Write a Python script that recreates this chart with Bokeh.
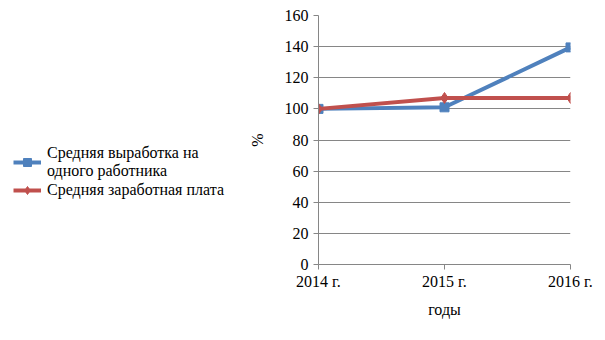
from bokeh.plotting import figure
from bokeh.layouts import row
from bokeh.models import Range1d, FixedTicker, Legend, LegendItem
from bokeh.embed import file_html
from bokeh.resources import INLINE

years = ["2014 г.", "2015 г.", "2016 г."]
output_per_worker = [100, 101, 139.5]
avg_salary = [100, 107, 107]
y_ticks = [0, 20, 40, 60, 80, 100, 120, 140, 160]
series_names = ["Средняя выработка на\nодного работника", "Средняя заработная плата"]

FONT = "Liberation Serif"
FS = "16px"
GRAY = "#868686"
BLUE = "#4F81BD"
RED = "#C0504D"

xs = list(range(len(years)))
LEG_W = 240

# ---- main chart ----
p = figure(width=605 - LEG_W, height=340, output_backend="svg", toolbar_location=None,
           x_range=Range1d(0, len(years) - 1), y_range=Range1d(0, 160),
           min_border_left=318 - LEG_W, min_border_right=35, min_border_top=15,
           min_border_bottom=76)
p.outline_line_color = None
p.background_fill_color = "white"
p.border_fill_color = "white"

p.xgrid.visible = False
p.ygrid.grid_line_color = GRAY
p.ygrid.grid_line_width = 1

for ax in (p.xaxis[0], p.yaxis[0]):
    ax.axis_line_color = GRAY
    ax.major_tick_line_color = GRAY
    ax.major_tick_out = 5
    ax.major_tick_in = 0
    ax.minor_tick_line_color = None
    ax.major_label_text_font = FONT
    ax.major_label_text_font_size = FS
    ax.major_label_text_color = "#000000"
    ax.axis_label_text_font = FONT
    ax.axis_label_text_font_size = FS
    ax.axis_label_text_font_style = "normal"
    ax.axis_label_text_color = "#000000"

p.xaxis.ticker = FixedTicker(ticks=xs)
p.xaxis.major_label_overrides = {i: y for i, y in enumerate(years)}
p.xaxis.axis_label = "годы"
p.xaxis.major_label_standoff = 3
p.xaxis.axis_label_standoff = 8

p.yaxis.ticker = FixedTicker(ticks=y_ticks)
p.yaxis.axis_label = "%"
p.yaxis.major_label_standoff = 5
p.yaxis.axis_label_standoff = 16

p.line(xs, output_per_worker, line_color=BLUE, line_width=4)
p.scatter(xs, output_per_worker, marker="square", size=9, fill_color=BLUE, line_color=BLUE)
p.line(xs, avg_salary, line_color=RED, line_width=4)
p.scatter(xs, avg_salary, marker="diamond", size=11, fill_color=RED, line_color=RED)

# ---- legend panel (same series, drawn outside its visible range) ----
lf = figure(width=LEG_W, height=340, output_backend="svg", toolbar_location=None,
            x_range=Range1d(100, 101), y_range=Range1d(1000, 1001),
            min_border=0)
lf.axis.visible = False
lf.grid.visible = False
lf.outline_line_color = None
lf.background_fill_color = "white"
lf.border_fill_color = "white"

a1 = lf.line(xs, output_per_worker, line_color=BLUE, line_width=4)
b1 = lf.scatter(xs, output_per_worker, marker="square", size=9, fill_color=BLUE, line_color=BLUE)
a2 = lf.line(xs, avg_salary, line_color=RED, line_width=4)
b2 = lf.scatter(xs, avg_salary, marker="diamond", size=11, fill_color=RED, line_color=RED)

legend = Legend(items=[
    LegendItem(label=series_names[0], renderers=[a1, b1]),
    LegendItem(label=series_names[1], renderers=[a2, b2]),
], location=(13, 64))
legend.label_text_font = "'Liberation Serif', serif"
legend.label_text_font_size = FS
legend.label_text_color = "#000000"
legend.label_text_line_height = 1.0
legend.glyph_width = 28
legend.label_standoff = 6
legend.spacing = 0
legend.padding = 2
legend.margin = 0
legend.border_line_color = None
legend.background_fill_alpha = 0
lf.add_layout(legend, "center")

layout = row(lf, p, spacing=0)
open("out.html", "w").write(file_html(layout, INLINE))
